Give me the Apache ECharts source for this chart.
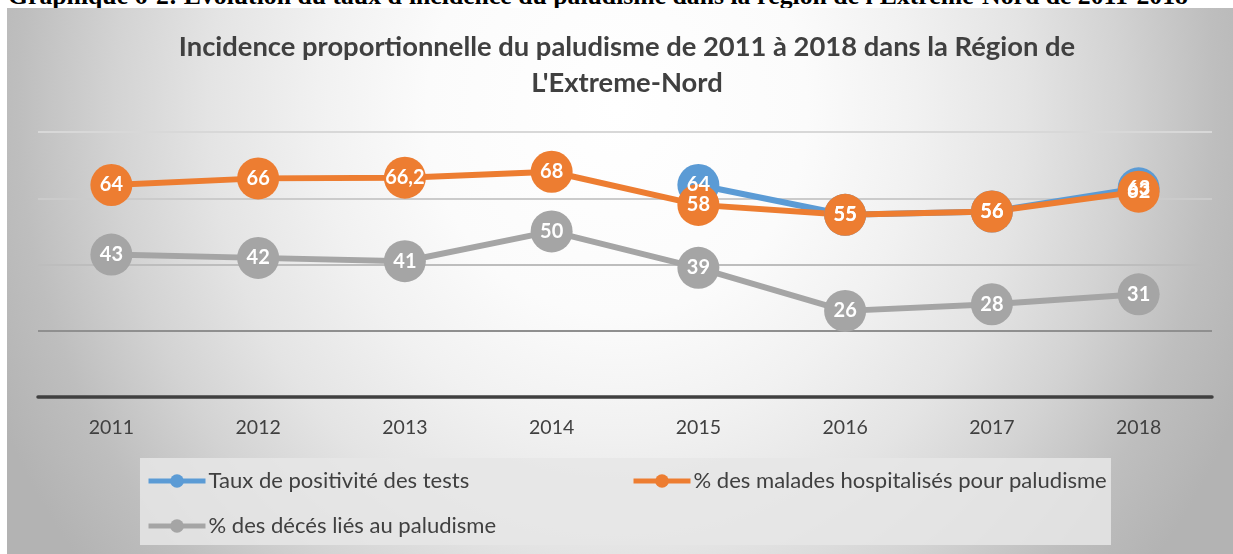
<!DOCTYPE html>
<html>
<head>
<meta charset="utf-8">
<script src="https://cdn.jsdelivr.net/npm/echarts@6/dist/echarts.min.js"></script>
<style>
  html, body { margin: 0; padding: 0; background: #ffffff; overflow: hidden; }
  #wrap { position: relative; width: 1233px; height: 554px; overflow: hidden; }
  #caption { position: absolute; left: 8px; top: -14px; white-space: nowrap;
    font-family: "Liberation Serif", "DejaVu Serif", serif; font-weight: bold; color: #000; line-height: 1; z-index: 0; }
  #bg { position: absolute; left: 7px; top: 8px; width: 1240px; height: 560px; z-index: 1;
    background: radial-gradient(ellipse 680px 740px at 610px 100px,
      #ffffff 0%, #fbfbfb 28%, #f1f1f1 44%, #e4e4e4 60%, #d3d3d3 74%, #bebebe 88%, #b3b3b3 100%); }
  #chart { position: absolute; left: 0; top: 0; width: 1233px; height: 554px; z-index: 2; }
</style>
</head>
<body>
<div id="wrap">
  <div id="caption">Graphique 6-2: Evolution du taux d'incidence du paludisme dans la région de l'Extreme-Nord de 2011-2018</div>
  <div id="bg"></div>
  <div id="chart"></div>
</div>
<script>
// ---- data ----
const years = ['2011', '2012', '2013', '2014', '2015', '2016', '2017', '2018'];
const tauxPositivite = [null, null, null, null, 64, 55, 56, 63];
const maladesHospitalises = [64, 66, 66.2, 68, 58, 55, 56, 62];
const decesPaludisme = [43, 42, 41, 50, 39, 26, 28, 31];
const seriesNames = ['Taux de positivité des tests', '% des malades hospitalisés pour paludisme', '% des décés liés au paludisme'];
const titleLines = ['Incidence proportionnelle du paludisme de 2011 à 2018 dans la Région de', "L'Extreme-Nord"];
const yTicks = [0, 20, 40, 60, 80];

// ---- font fitting ----
const mctx = document.createElement('canvas').getContext('2d');
function fitSize(text, weight, family, target) {
  mctx.font = weight + ' 100px ' + family;
  return 100 * target / mctx.measureText(text).width;
}
const capEl = document.getElementById('caption');
const capSize = fitSize(capEl.textContent, 'bold', '"Liberation Serif"', 1180);
capEl.style.fontSize = capSize.toFixed(2) + 'px';
capEl.style.top = (5 - capSize * 0.86).toFixed(1) + 'px';

const titleSize = fitSize(titleLines[0], 'bold', 'Lato', 897);
const legendSize = fitSize(seriesNames[0], 'normal', 'Lato', 261);

const colors = ['#5B9BD5', '#ED7D31', '#A5A5A5'];
const chart = echarts.init(document.getElementById('chart'), null, { renderer: 'canvas' });

function fmt(p) {
  return String(p.value).replace('.', ',');
}
function mkSeries(name, data, color, z) {
  return {
    name: name, type: 'line', data: data, z: z,
    symbol: 'circle', symbolSize: 42,
    itemStyle: { color: color },
    lineStyle: { color: color, width: 6 },
    label: { show: true, position: 'inside', color: '#ffffff', fontFamily: 'Lato', fontWeight: 'bold', fontSize: 20, formatter: fmt },
    emphasis: { disabled: true },
    animation: false
  };
}

const legendBase = {
  orient: 'horizontal', padding: 0, itemWidth: 57, itemHeight: 17, itemGap: 0,
  lineStyle: { width: 5 },
  textStyle: { color: '#404040', fontFamily: 'Lato', fontSize: legendSize, lineHeight: 24, padding: [0, 0, 0, -2] },
  selectedMode: false
};

chart.setOption({
  backgroundColor: 'transparent',
  color: colors,
  title: {
    text: titleLines.join('\n'),
    left: 627, top: 29, textAlign: 'center', padding: 0,
    textStyle: { color: '#404040', fontFamily: 'Lato', fontWeight: 'bold', fontSize: titleSize, lineHeight: 36 }
  },
  legend: [
    Object.assign({}, legendBase, { data: [seriesNames[0]], left: 146, top: 469 }),
    Object.assign({}, legendBase, { data: [seriesNames[1]], left: 631, top: 469 }),
    Object.assign({}, legendBase, { data: [seriesNames[2]], left: 146, top: 514 })
  ],
  graphic: [{
    type: 'rect', z: -10, silent: true,
    shape: { x: 140, y: 458, width: 971, height: 87 },
    style: { fill: 'rgba(230,230,230,0.85)' }
  }],
  grid: { left: 38, right: 21, top: 132, bottom: 157, containLabel: false },
  xAxis: {
    type: 'category', data: years, boundaryGap: true,
    axisLine: { show: true, lineStyle: { color: '#404040', width: 3.5 } },
    axisTick: { show: false },
    axisLabel: { color: '#404040', fontFamily: 'Lato', fontSize: 19.5, margin: 21 }
  },
  yAxis: {
    type: 'value', min: yTicks[0], max: yTicks[yTicks.length - 1], interval: yTicks[1] - yTicks[0],
    axisLabel: { show: false }, axisLine: { show: false }, axisTick: { show: false },
    splitLine: { show: true, lineStyle: { color: ['#404040', '#8f8f8f', '#bdbdbd', '#cbcbcb', '#d8d8d8'], width: 2 } }
  },
  series: [
    mkSeries(seriesNames[0], tauxPositivite, colors[0], 2),
    mkSeries(seriesNames[1], maladesHospitalises, colors[1], 2),
    mkSeries(seriesNames[2], decesPaludisme, colors[2], 2)
  ]
});
</script>
</body>
</html>
